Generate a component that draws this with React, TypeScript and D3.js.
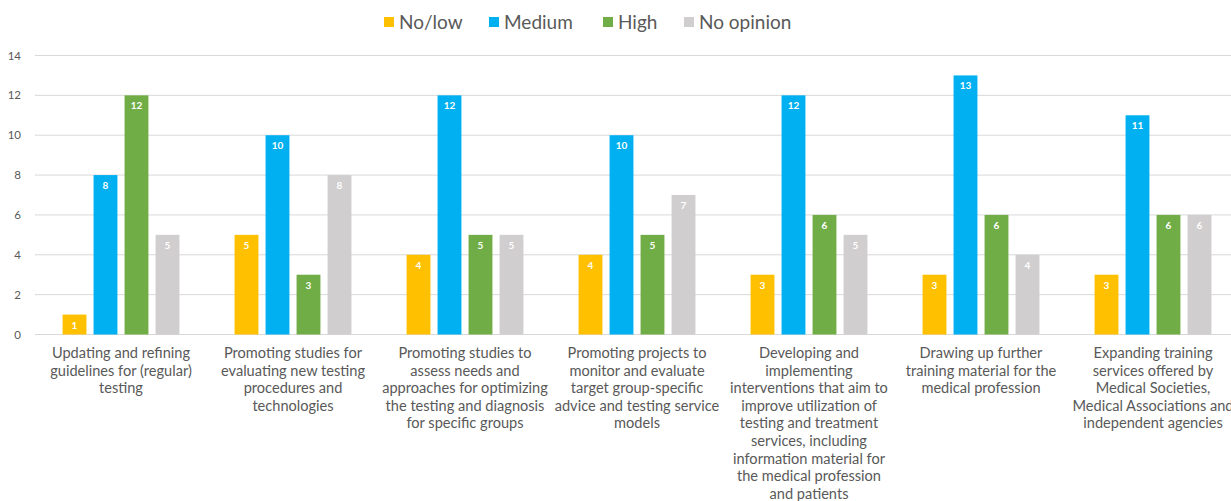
import React from "react";
import * as d3 from "d3";

const categories: string[][] = [
  ["Updating and refining", "guidelines for (regular)", "testing"],
  ["Promoting studies for", "evaluating new testing", "procedures and", "technologies"],
  ["Promoting studies to", "assess needs and", "approaches for optimizing", "the testing and diagnosis", "for specific groups"],
  ["Promoting projects to", "monitor and evaluate", "target group-specific", "advice and testing service", "models"],
  ["Developing and", "implementing", "interventions that aim to", "improve utilization of", "testing and treatment", "services, including", "information material for", "the medical profession", "and patients"],
  ["Drawing up further", "training material for the", "medical profession"],
  ["Expanding training", "services offered by", "Medical Societies,", "Medical Associations and", "independent agencies"],
];

const seriesNames = ["No/low", "Medium", "High", "No opinion"];
const noLow = [1, 5, 4, 4, 3, 3, 3];
const medium = [8, 10, 12, 10, 12, 13, 11];
const high = [12, 3, 5, 5, 6, 6, 6];
const noOpinion = [5, 8, 5, 7, 5, 4, 6];
const yTicks = [0, 2, 4, 6, 8, 10, 12, 14];

const colors = ["#FFC000", "#00B0F0", "#70AD47", "#D0CECE"];
const seriesValues = [noLow, medium, high, noOpinion];

const W = 1231;
const H = 501;
const FONT = "Lato, 'Open Sans', sans-serif";

export default function App() {
  const idx = categories.map((_, i) => i);
  const x = d3.scaleBand<number>().domain(idx).range([35, 35 + 7 * 172]).padding(0);
  const inner = d3
    .scaleBand<number>()
    .domain([0, 1, 2, 3])
    .range([(172 - 124) / 2, (172 - 124) / 2 + 124])
    .paddingInner(0.23)
    .paddingOuter(0.115);
  const y = d3.scaleLinear().domain([0, 14]).range([334.5, 55.5]);

  const legendX = [384, 489, 603, 684];

  return (
    <svg
      width={W}
      height={H}
      style={{ position: "absolute", left: 0, top: 0, background: "#fff" }}
      fontFamily={FONT}
    >
      <rect x={0} y={0} width={W} height={H} fill="#fff" />
      {yTicks.map((t) => (
        <g key={t}>
          <line x1={35} x2={W} y1={y(t)} y2={y(t)} stroke="#D9D9D9" strokeWidth={1} />
          <text x={21} y={y(t)} dy="0.35em" textAnchor="end" fontSize={11.5} fill="#595959">
            {t}
          </text>
        </g>
      ))}
      {idx.map((ci) => (
        <g key={ci} transform={`translate(${x(ci)},0)`}>
          {seriesValues.map((vals, si) => {
            const bx = inner(si)!;
            const bw = inner.bandwidth();
            const v = vals[ci];
            return (
              <g key={si}>
                <rect x={bx} y={y(v)} width={bw} height={y(0) - y(v)} fill={colors[si]} />
                <text
                  x={bx + bw / 2}
                  y={y(v) + 14}
                  textAnchor="middle"
                  fontSize={10}
                  fontWeight="bold"
                  fill="#fff"
                >
                  {v}
                </text>
              </g>
            );
          })}
          {categories[ci].map((line, li) => (
            <text
              key={li}
              x={x.bandwidth() / 2}
              y={358 + li * 17.6}
              textAnchor="middle"
              fontSize={14.6}
              fill="#595959"
            >
              {line}
            </text>
          ))}
        </g>
      ))}
      {seriesNames.map((name, i) => (
        <g key={name}>
          <rect x={legendX[i]} y={17} width={10} height={10} fill={colors[i]} />
          <text x={legendX[i] + 15} y={28.5} fontSize={19} fill="#595959">
            {name}
          </text>
        </g>
      ))}
    </svg>
  );
}
